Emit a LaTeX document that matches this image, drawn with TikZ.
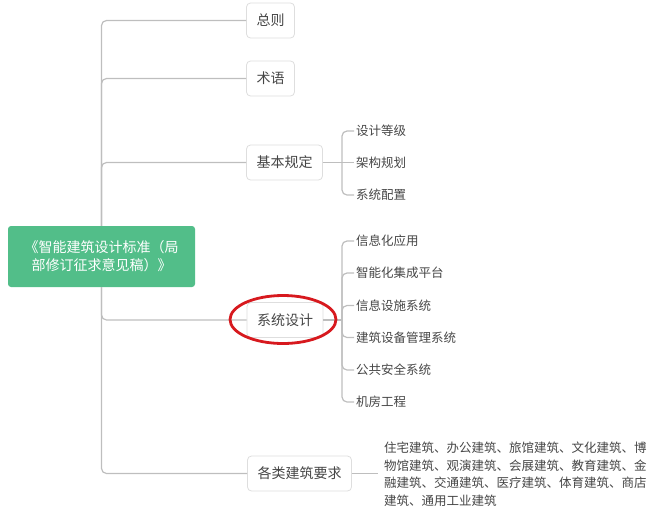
\documentclass[tikz,border=0pt]{standalone}
\usepackage{fontspec}
\setmainfont{Noto Sans CJK SC}
\usepackage{tikz}
\definecolor{rootgreen}{RGB}{82,190,137}
\definecolor{linegray}{RGB}{190,190,190}
\definecolor{boxgray}{RGB}{222,222,222}
\definecolor{textgray}{RGB}{70,70,70}
\definecolor{ringred}{RGB}{215,25,30}

\begin{document}
\begin{tikzpicture}[x=1pt,y=-1pt,
    root_node/.style={rectangle,rounded corners=3pt,fill=rootgreen,text=white,minimum width=187pt,minimum height=61pt,align=center,font=\fontsize{14}{18}\selectfont},
    main_node/.style={rectangle,rounded corners=4pt,draw=boxgray,line width=0.8pt,fill=white,text=textgray,minimum height=35pt,inner xsep=10pt,font=\fontsize{14}{17}\selectfont},
    leaf_node/.style={anchor=west,inner sep=2pt,text=textgray,font=\fontsize{12.5}{15}\selectfont},
    branch/.style={draw=linegray,line width=1.2pt,rounded corners=5pt}]

    \useasboundingbox (0,0) rectangle (660,517);

    \node[root_node] (1) at (101.5,256.5) {《智能建筑设计标准（局\\部修订征求意见稿）》};
    \node[main_node] (2) at (270.5,20.5) {总则};
    \node[main_node] (3) at (270.5,78.5) {术语};
    \node[main_node] (4) at (284.5,162.5) {基本规定};
    \node[main_node] (5) at (285,320) {系统设计};
    \node[main_node] (6) at (299.5,473.5) {各类建筑要求};

    \draw[branch] (1.north) |- (2.west);
    \draw[branch] (1.north) |- (3.west);
    \draw[branch] (1.north) |- (4.west);
    \draw[branch] (1.south) |- (5.west);
    \draw[branch] (1.south) |- (6.west);

    % 基本规定
    \coordinate (b4) at (342,162.5);
    \node[leaf_node] (41) at (354,131) {设计等级};
    \node[leaf_node] (42) at (354,162.5) {架构规划};
    \node[leaf_node] (43) at (354,195) {系统配置};
    \draw[branch] (4.east) -- (b4);
    \draw[branch] (b4) |- (41.west);
    \draw[branch] (b4) -- (42.west);
    \draw[branch] (b4) |- (43.west);

    % 系统设计
    \coordinate (b5) at (342,320);
    \node[leaf_node] (51) at (354,241) {信息化应用};
    \node[leaf_node] (52) at (354,273) {智能化集成平台};
    \node[leaf_node] (53) at (354,305.5) {信息设施系统};
    \node[leaf_node] (54) at (354,337.5) {建筑设备管理系统};
    \node[leaf_node] (55) at (354,370) {公共安全系统};
    \node[leaf_node] (56) at (354,402) {机房工程};
    \draw[branch] (5.east) -- (b5);
    \draw[branch] (b5) |- (51.west);
    \draw[branch] (b5) |- (52.west);
    \draw[branch] (b5) |- (53.west);
    \draw[branch] (b5) |- (54.west);
    \draw[branch] (b5) |- (55.west);
    \draw[branch] (b5) |- (56.west);
    \draw[ringred,line width=2.8pt] (283,319.5) ellipse [x radius=53, y radius=24];

    % 各类建筑要求
    \node[leaf_node,align=left,font=\fontsize{12.5}{17.5}\selectfont] (61) at (382,474) {住宅建筑、办公建筑、旅馆建筑、文化建筑、博\\物馆建筑、观演建筑、会展建筑、教育建筑、金\\融建筑、交通建筑、医疗建筑、体育建筑、商店\\建筑、通用工业建筑};
    \draw[branch] (6.east) -- ++(26,0);
\end{tikzpicture}
\end{document}
